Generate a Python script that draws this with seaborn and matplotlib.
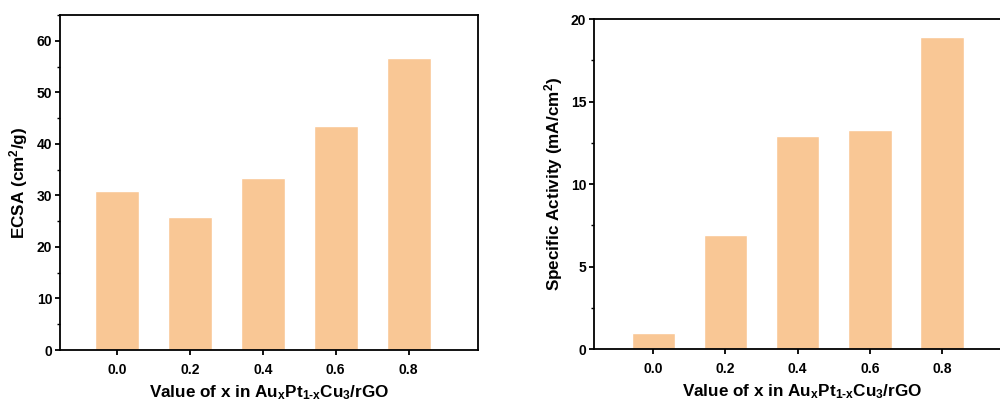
import matplotlib
matplotlib.use("Agg")
import matplotlib.pyplot as plt
import seaborn as sns
import pandas as pd
from matplotlib.ticker import MultipleLocator

x_labels = ["0.0", "0.2", "0.4", "0.6", "0.8"]
ecsa = [30.9, 25.8, 33.4, 43.5, 56.7]
specific_activity = [1.0, 6.9, 12.9, 13.3, 18.9]

sns.set_style("ticks")
plt.rcParams['font.family'] = ['Liberation Sans', 'DejaVu Sans']
plt.rcParams['font.weight'] = 'bold'
plt.rcParams['text.color'] = 'black'
plt.rcParams['axes.labelcolor'] = 'black'
plt.rcParams['mathtext.fontset'] = 'custom'
plt.rcParams['mathtext.rm'] = 'Liberation Sans:bold'
plt.rcParams['mathtext.bf'] = 'Liberation Sans:bold'
plt.rcParams['mathtext.it'] = 'Liberation Sans:bold'
plt.rcParams['mathtext.default'] = 'bf'

bar_color = "#F9C795"

fig = plt.figure(figsize=(10, 4.07), dpi=100)
ax1 = fig.add_axes([0.060, 0.140, 0.418, 0.823])
ax2 = fig.add_axes([0.594, 0.1425, 0.416, 0.8105])

xlabel = r"Value of x in Au$_{x}$Pt$_{1\text{-}x}$Cu$_{3}$/rGO"

df1 = pd.DataFrame({"x": x_labels, "y": ecsa})
df2 = pd.DataFrame({"x": x_labels, "y": specific_activity})

sns.barplot(data=df1, x="x", y="y", order=x_labels, color=bar_color,
            saturation=1, width=0.6, ax=ax1)
sns.barplot(data=df2, x="x", y="y", order=x_labels, color=bar_color,
            saturation=1, width=0.6, ax=ax2)

ax1.set_xlim(-0.78, 4.95)
ax1.set_ylim(0, 65)
ax1.yaxis.set_major_locator(MultipleLocator(10))
ax1.yaxis.set_minor_locator(MultipleLocator(5))
ax1.set_ylabel(r"ECSA (cm$^{2}$/g)", fontsize=12.3, fontweight='bold',
               labelpad=5, color='black')

ax2.set_xlim(-0.82, 4.94)
ax2.set_ylim(0, 20)
ax2.yaxis.set_major_locator(MultipleLocator(5))
ax2.yaxis.set_minor_locator(MultipleLocator(2.5))
ax2.set_ylabel(r"Specific Activity (mA/cm$^{2}$)", fontsize=12.3, fontweight='bold',
               labelpad=4, color='black')

for ax in (ax1, ax2):
    ax.set_xlabel(xlabel, fontsize=12.3, fontweight='bold', labelpad=5, color='black')
    for s in ax.spines.values():
        s.set_visible(True)
        s.set_linewidth(1.3)
        s.set_color('black')
    ax.tick_params(axis='both', which='major', direction='out', length=3.6, width=1.3,
                   labelsize=10, colors='black', pad=2)
    ax.tick_params(axis='y', which='minor', direction='out', length=2.2, width=1.0,
                   colors='black')
    ax.tick_params(axis='x', which='major', pad=5.5)
    for lab in ax.get_xticklabels() + ax.get_yticklabels():
        lab.set_fontweight('bold')

fig.savefig("out.png", dpi=100)
